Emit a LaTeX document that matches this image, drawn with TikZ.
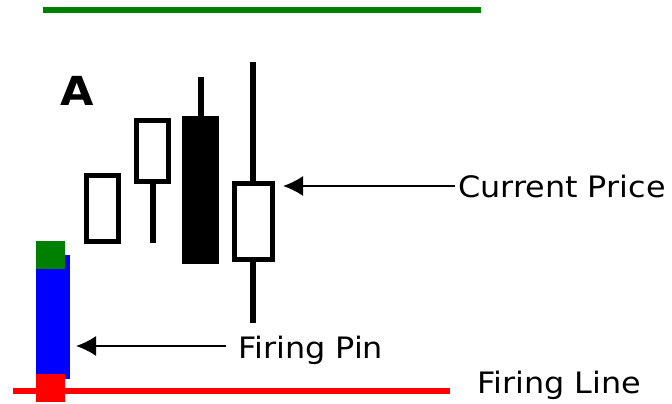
\documentclass[tikz,border=0pt]{standalone}
\usepackage{fontspec}
\setmainfont{DejaVu Sans}[FakeStretch=1.08]
\usepackage{tikz}
\usetikzlibrary{
  arrows.meta,%
  positioning,%
  calc
}
\definecolor{lvlgreen}{RGB}{0,128,0}
\tikzset{>={Latex[length=20pt,width=20pt]}}
\tikzset{
  candle/.style={draw=black, line width=5.5pt, fill=white},
  wick/.style={draw=black, line width=6pt},
  label/.style={inner xsep=0pt, inner ysep=0pt, text depth=0pt,
    font=\fontsize{29.5}{34}\selectfont},
  pointer/.style={->, line width=2pt},
  level/.style={line width=6pt}
}

\begin{document}
\begin{tikzpicture}[x=1pt, y=-1pt]
    \useasboundingbox (0, 0) rectangle (672, 404);
    % levels
    \draw[level, lvlgreen] (43, 10) -- (481, 10);
    \draw[level, red] (13, 390.5) -- (450, 390.5);
    % firing pin bar
    \fill[blue] (36, 255) rectangle (70, 379);
    \fill[lvlgreen] (36, 241) rectangle (65, 269);
    \fill[red] (36, 374) rectangle (65, 402);
    \node[anchor=base west, inner sep=0pt,
      font=\fontsize{40}{44}\selectfont\bfseries] (mark) at (60, 105) {A};
    % candles
    \draw[candle] (86.5, 175.5) rectangle (118.5, 241.5);
    \draw[wick] (153, 181.5) -- (153, 243);
    \draw[candle] (136.5, 120.5) rectangle (168.5, 181.5);
    \draw[wick] (201, 77) -- (201, 117);
    \fill[black] (182, 116) rectangle (219, 264);
    \draw[wick] (253, 62) -- (253, 323);
    \draw[candle] (234.5, 183.5) rectangle (272.5, 259.5);
    % labels
    \node[label, anchor=base west] (price) at (458, 197) {Current Price};
    \node[label, anchor=base west] (pin) at (238, 358) {Firing Pin};
    \node[label, anchor=base west] (line) at (477, 393) {Firing Line};
    \coordinate (pricetip) at (283, 186);
    \coordinate (pintip) at (76, 346);
    \draw[pointer, shorten <=3pt] (price.west |- pricetip) -- (pricetip);
    \draw[pointer, shorten <=12pt] (pin.west |- pintip) -- (pintip);
  \end{tikzpicture}
\end{document}
